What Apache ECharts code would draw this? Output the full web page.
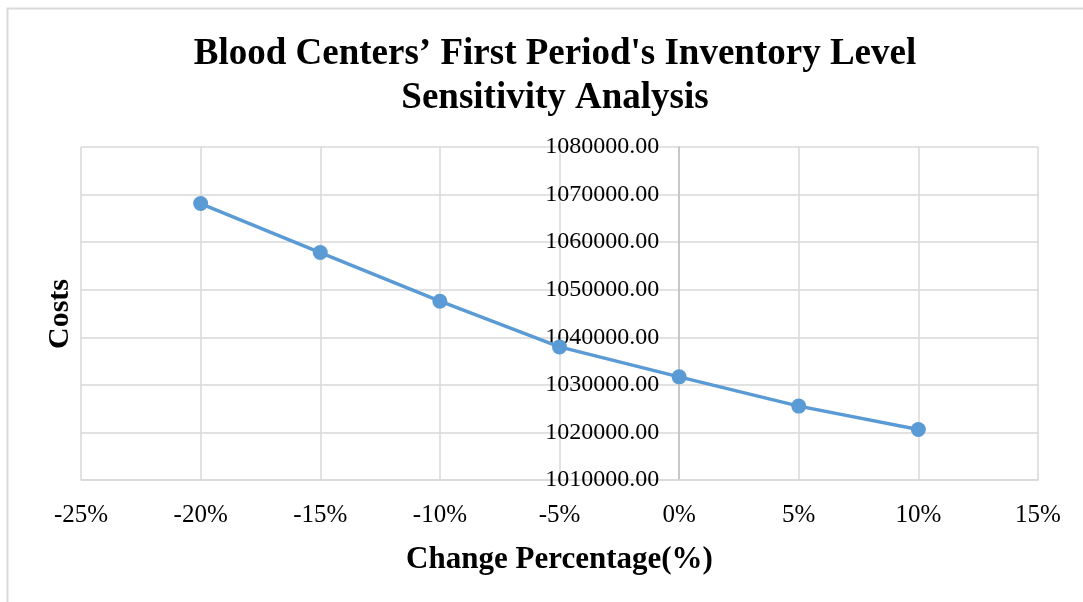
<!DOCTYPE html>
<html>
<head>
<meta charset="utf-8">
<title>Inventory Level Sensitivity</title>
<script src="https://cdn.jsdelivr.net/npm/echarts@6/dist/echarts.min.js"></script>
<style>
    html, body { margin: 0; padding: 0; background: #fff; }
    #chart { width: 1083px; height: 602px; }
</style>
</head>
<body>
<div id="chart"></div>
<script>
// change percentage (x) and cost (y)
var changePct = [-20, -15, -10, -5, 0, 5, 10];
var costs = [1068110, 1057820, 1047580, 1037980, 1031680, 1025530, 1020630];

var xMin = -25, xMax = 15;
var serif = '"Liberation Serif", "Times New Roman", serif';

var gridLeft = 81, gridRight = 45;
var plotWidth = 1083 - gridLeft - gridRight;
// the value axis crosses at 0%, so shift the y axis there
var yAxisShift = plotWidth * (0 - xMin) / (xMax - xMin);

var chart = echarts.init(document.getElementById('chart'));
chart.setOption({
    animation: false,
    title: {
        text: "Blood Centers\u2019 First Period's Inventory Level\nSensitivity Analysis",
        left: 550,
        top: 27,
        textAlign: 'center',
        textStyle: {
            fontFamily: serif,
            fontSize: 37,
            fontWeight: 'bold',
            color: '#000',
            lineHeight: 44
        }
    },
    graphic: [
        {
            type: 'rect',
            shape: {x: 7.5, y: 8.5, width: 1200, height: 700},
            style: {fill: null, stroke: '#d9d9d9', lineWidth: 2},
            silent: true
        },
        {
            type: 'text',
            x: 60,
            y: 314,
            rotation: Math.PI / 2,
            style: {
                text: 'Costs',
                fontFamily: serif,
                fontSize: 30,
                fontWeight: 'bold',
                fill: '#000',
                align: 'center',
                verticalAlign: 'middle'
            }
        }
    ],
    grid: {
        left: gridLeft,
        right: gridRight,
        top: 147,
        bottom: 122,
        containLabel: false,
        outerBoundsMode: 'none'
    },
    xAxis: {
        type: 'value',
        min: xMin,
        max: xMax,
        interval: 5,
        name: 'Change Percentage(%)',
        nameLocation: 'middle',
        nameGap: 64,
        nameTextStyle: {
            fontFamily: serif,
            fontSize: 31,
            fontWeight: 'bold',
            color: '#000'
        },
        axisLine: {show: true, onZero: false, lineStyle: {color: '#d9d9d9', width: 1.5}},
        axisTick: {show: false},
        axisLabel: {
            formatter: function (v) { return v + '%'; },
            fontFamily: serif,
            fontSize: 25,
            color: '#000',
            margin: 23
        },
        splitLine: {show: true, lineStyle: {color: '#d9d9d9', width: 1.5}}
    },
    yAxis: {
        type: 'value',
        min: 1010000,
        max: 1080000,
        interval: 10000,
        offset: -yAxisShift,
        axisLine: {show: true, onZero: false, lineStyle: {color: '#bfbfbf', width: 1.5}},
        axisTick: {show: false},
        axisLabel: {
            formatter: function (v) { return v.toFixed(2); },
            fontFamily: serif,
            fontSize: 24,
            color: '#000',
            margin: 20
        },
        splitLine: {show: true, lineStyle: {color: '#d9d9d9', width: 1.5}}
    },
    series: [
        {
            type: 'line',
            data: changePct.map(function (x, i) { return [x, costs[i]]; }),
            symbol: 'circle',
            symbolSize: 15,
            lineStyle: {color: '#5b9bd5', width: 3.5},
            itemStyle: {color: '#5b9bd5'}
        }
    ]
});
</script>
</body>
</html>
